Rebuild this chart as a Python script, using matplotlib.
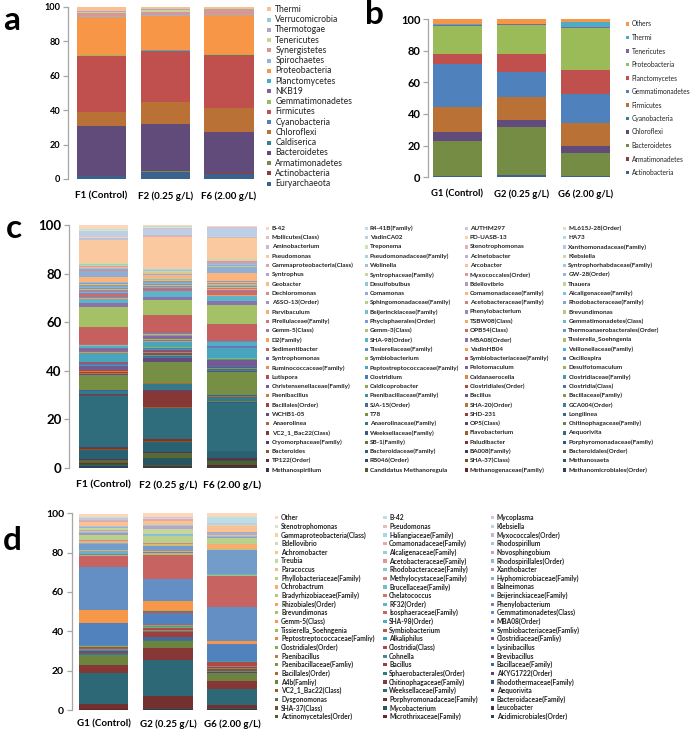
import math
import numpy as np
import matplotlib
matplotlib.use("Agg")
import matplotlib.pyplot as plt
from matplotlib.colors import to_rgb
from matplotlib.patches import Rectangle

plt.rcParams['font.family'] = ['Lato', 'DejaVu Sans']

W, H = 700, 731

# ---------------- panel a : phyla, digester samples (bottom -> top) ----------------
A_SAMPLES = ['F1 (Control)', 'F2 (0.25 g/L)', 'F6 (2.00 g/L)']
A_TAXA = ['Euryarchaeota', 'Actinobacteria', 'Armatimonadetes', 'Bacteroidetes', 'Caldiserica',
          'Chloroflexi', 'Cyanobacteria', 'Firmicutes', 'Gemmatimonadetes', 'NKB19',
          'Planctomycetes', 'Proteobacteria', 'Spirochaetes', 'Synergistetes', 'Tenericutes',
          'Thermotogae', 'Verrucomicrobia', 'Thermi']
A_F1 = [1.5, 0.2, 0.1, 28.7, 0.1, 8.4, 0.1, 32.4, 0.2, 0.1, 0.4, 22.0, 0.3, 2.0, 0.5, 0.3, 0.3, 2.4]
A_F2 = [4.0, 0.3, 0.2, 27.5, 0.1, 12.7, 0.1, 29.1, 0.3, 0.1, 0.4, 20.0, 0.3, 1.9, 0.8, 0.6, 0.3, 1.3]
A_F6 = [3.1, 0.2, 0.2, 23.5, 0.1, 14.0, 0.1, 30.9, 0.2, 0.1, 0.4, 22.6, 0.2, 3.0, 0.4, 0.3, 0.2, 0.5]

# ---------------- panel b : phyla, soil samples ----------------
B_SAMPLES = ['G1 (Control)', 'G2 (0.25 g/L)', 'G6 (2.00 g/L)']
B_TAXA = ['Actinobacteria', 'Armatimonadetes', 'Bacteroidetes', 'Chloroflexi', 'Cyanobacteria',
          'Firmicutes', 'Gemmatimonadetes', 'Planctomycetes', 'Proteobacteria', 'Tenericutes',
          'Thermi', 'Others']
B_G1 = [0.7, 0.1, 21.9, 5.7, 0.1, 15.7, 27.6, 5.9, 17.9, 0.3, 0.9, 3.2]
B_G2 = [1.3, 0.2, 30.3, 4.4, 0.1, 14.2, 15.8, 11.8, 18.3, 0.3, 0.4, 2.9]
B_G6 = [0.7, 0.1, 14.6, 4.4, 0.1, 14.2, 18.3, 15.6, 26.5, 0.5, 2.9, 2.1]

# ---------------- panel c : genera, digester samples (bottom -> top) ----------------
C_TAXA = [
    'Methanomicrobiales(Order)', 'Methanogenaceae(Family)', 'Candidatus Methanoregula', 'Methanospirillum',
    'Methanosaeta', 'SHA-37(Class)', 'RB046(Order)', 'TP122(Order)',
    'Bacteroidales(Order)', 'BA008(Family)', 'Bacteroidaceae(Family)', 'Bacteroides',
    'Porphyromonadaceae(Family)', 'Paludibacter', 'SB-1(Family)', 'Cryomorphaceae(Family)',
    'Aequorivita', 'Flavobacterium', 'Weeksellaceae(Family)', 'VC2_1_Bac22(Class)',
    'Chitinophagaceae(Family)', 'OP5(Class)', 'Anaerolinaceae(Family)', 'Anaerolinea',
    'Longilinea', 'SHD-231', 'T78', 'WCHB1-05',
    'GCA004(Order)', 'SHA-20(Order)', 'SJA-15(Order)', 'Bacillales(Order)',
    'Bacillaceae(Family)', 'Bacillus', 'Paenibacillaceae(Family)', 'Paenibacillus',
    'Clostridia(Class)', 'Clostridiales(Order)', 'Caldicoprobacter', 'Christensenellaceae(Family)',
    'Clostridiaceae(Family)', 'Caldanaerocella', 'Clostridium', 'Lutispora',
    'Desulfotomaculum', 'Pelotomaculum', 'Peptostreptococcaceae(Family)', 'Ruminococcaceae(Family)',
    'Oscillospira', 'Symbiobacteriaceae(Family)', 'Symbiobacterium', 'Syntrophomonas',
    'Veillonellaceae(Family)', 'VadinHB04', 'Tissierellaceae(Family)', 'Sedimentibacter',
    'Tissierella_Soehngenia', 'MBA08(Order)', 'SHA-98(Order)', 'D2(Family)',
    'Thermoanaerobacterales(Order)', 'OPB54(Class)', 'Gemm-3(Class)', 'Gemm-5(Class)',
    'Gemmatimonadetes(Class)', 'TSBW08(Class)', 'Phycisphaerales(Order)', 'Pirellulaceae(Family)',
    'Brevundimonas', 'Phenylobacterium', 'Beijerinckiaceae(Family)', 'Parvibaculum',
    'Rhodobacteraceae(Family)', 'Acetobacteraceae(Family)', 'Sphingomonadaceae(Family)', 'ASSO-13(Order)',
    'Alcaligenaceae(Family)', 'Comamonadaceae(Family)', 'Comamonas', 'Dechloromonas',
    'Thauera', 'Bdellovibrio', 'Desulfobulbus', 'Geobacter',
    'GW-28(Order)', 'Myxococcales(Order)', 'Syntrophaceae(Family)', 'Syntrophus',
    'Syntrophorhabdaceae(Family)', 'Arcobacter', 'Wolinella', 'Gammaproteobacteria(Class)',
    'Klebsiella', 'Acinetobacter', 'Pseudomonadaceae(Family)', 'Pseudomonas',
    'Xanthomonadaceae(Family)', 'Stenotrophomonas', 'Treponema', 'Aminobacterium',
    'HA73', 'PD-UASB-13', 'VadinCA02', 'Mollicutes(Class)',
    'ML615J-28(Order)', 'AUTHM297', 'R4-41B(Family)', 'B-42']
C_F1 = [0.5, 0.3, 0.2, 0.2, 0.3, 0.1, 0.1, 0.1,
        1.5, 0.1, 4.0, 0.2, 0.2, 0.4, 0.1, 0.1,
        21.0, 0.2, 0.2, 0.5, 0.2, 0.1, 1.0, 0.15,
        0.15, 0.15, 6.0, 0.5, 0.3, 0.2, 0.2, 0.1,
        0.1, 0.1, 0.1, 0.1, 0.2, 0.3, 0.2, 1.5,
        0.3, 0.3, 0.3, 0.3, 0.2, 0.2, 3.8, 0.3,
        0.4, 0.4, 0.3, 0.8, 0.8, 0.3, 0.4, 7.0,
        8.2, 1.6, 1.9, 0.3, 0.3, 1.3, 0.2, 0.3,
        0.2, 0.1, 0.3, 0.6, 0.3, 0.4, 0.3, 0.3,
        0.4, 0.5, 0.3, 0.4, 0.3, 2.0, 2.6, 0.3,
        0.3, 0.3, 0.3, 0.3, 0.3, 0.3, 0.2, 0.2,
        0.2, 0.1, 0.1, 0.1, 0.1, 0.1, 0.1, 9.6,
        0.1, 0.1, 0.2, 0.2, 0.3, 0.3, 2.2, 0.3,
        0.2, 0.2, 0.2, 1.65]
C_F2 = [0.4, 0.4, 0.2, 0.2, 2.6, 0.1, 0.1, 0.1,
        2.1, 0.1, 4.4, 0.2, 0.3, 0.5, 0.1, 0.1,
        12.9, 0.1, 0.1, 6.6, 0.2, 0.1, 2.8, 0.2,
        0.1, 0.1, 8.6, 1.6, 0.3, 0.2, 0.2, 0.1,
        0.2, 1.0, 0.2, 0.1, 0.2, 0.2, 0.2, 0.2,
        0.5, 0.2, 0.2, 0.2, 0.2, 0.2, 2.0, 0.3,
        0.3, 0.3, 0.2, 1.4, 0.4, 0.2, 0.6, 7.2,
        6.2, 1.4, 2.3, 0.2, 0.2, 0.6, 0.2, 0.3,
        0.2, 0.1, 0.2, 0.4, 0.3, 0.3, 0.3, 0.3,
        0.4, 0.3, 0.3, 0.3, 0.3, 1.5, 0.5, 0.2,
        0.2, 0.1, 0.1, 0.1, 0.1, 0.2, 0.1, 0.1,
        0.1, 0.1, 0.1, 0.1, 0.1, 0.1, 0.1, 13.3,
        0.1, 0.2, 0.2, 0.2, 0.2, 0.2, 2.4, 0.4,
        0.3, 0.2, 0.1, 0.4]
C_F6 = [0.3, 0.9, 1.5, 0.2, 0.3, 0.05, 0.05, 0.1,
        0.3, 0.1, 2.9, 0.05, 0.05, 0.1, 0.05, 0.05,
        19.7, 0.1, 0.1, 0.4, 0.1, 0.1, 1.8, 0.1,
        0.5, 0.1, 9.6, 0.4, 0.2, 0.2, 0.2, 0.2,
        0.2, 0.5, 0.1, 0.1, 0.1, 0.1, 0.1, 2.4,
        0.3, 0.1, 0.1, 0.1, 0.1, 0.1, 4.2, 0.1,
        0.1, 0.2, 0.1, 0.2, 1.7, 0.2, 0.3, 7.1,
        7.6, 1.7, 2.3, 0.2, 0.2, 1.4, 0.2, 0.3,
        0.2, 0.1, 0.2, 0.4, 0.4, 0.3, 0.4, 0.3,
        0.3, 0.4, 0.3, 0.3, 0.3, 3.2, 2.3, 0.3,
        0.3, 0.4, 0.2, 0.2, 0.2, 0.4, 0.2, 0.2,
        0.2, 0.2, 0.2, 0.1, 0.1, 0.2, 0.2, 8.5,
        0.1, 0.1, 0.1, 0.2, 0.2, 0.2, 3.0, 0.2,
        0.1, 0.1, 0.1, 0.6]

# ---------------- panel d : genera, soil samples (bottom -> top) ----------------
D_TAXA = [
    'Acidimicrobiales(Order)', 'Microthrixaceae(Family)', 'Actinomycetales(Order)', 'Leucobacter',
    'Mycobacterium', 'SHA-37(Class)', 'Bacteroidaceae(Family)', 'Porphyromonadaceae(Family)',
    'Dysgonomonas', 'Aequorivita', 'Weeksellaceae(Family)', 'VC2_1_Bac22(Class)',
    'Rhodothermaceae(Family)', 'Chitinophagaceae(Family)', 'A4b(Famliy)', 'AKYG1722(Order)',
    'Sphaerobacterales(Order)', 'Bacillales(Order)', 'Bacillaceae(Family)', 'Bacillus',
    'Paenibacillaceae(Famliy)', 'Brevibacillus', 'Cohnella', 'Paenibacillus',
    'Lysinibacillus', 'Clostridia(Class)', 'Clostridiales(Order)', 'Clostridiaceae(Famliy)',
    'Alkaliphilus', 'Peptostreptococcaceae(Famliy)', 'Symbiobacteriaceae(Famliy)', 'Symbiobacterium',
    'Tissierella_Soehngenia', 'MBA08(Order)', 'SHA-98(Order)', 'Gemm-5(Class)',
    'Gemmatimonadetes(Class)', 'Isosphaeraceae(Family)', 'Brevundimonas', 'Phenylobacterium',
    'RF32(Order)', 'Rhizobiales(Order)', 'Beijerinckiaceae(Family)', 'Chelatococcus',
    'Bradyrhizobiaceae(Family)', 'Balneimonas', 'Brucellaceae(Family)', 'Ochrobactrum',
    'Hyphomicrobiaceae(Family)', 'Methylocystaceae(Family)', 'Phyllobacteriaceae(Family)', 'Xanthobacter',
    'Rhodobacteraceae(Family)', 'Paracoccus', 'Rhodospirillales(Order)', 'Acetobacteraceae(Family)',
    'Treubia', 'Novosphingobium', 'Alcaligenaceae(Family)', 'Achromobacter',
    'Rhodospirillum', 'Comamonadaceae(Family)', 'Bdellovibrio', 'Myxococcales(Order)',
    'Haliangiaceae(Family)', 'Gammaproteobacteria(Class)', 'Klebsiella', 'Pseudomonas',
    'Stenotrophomonas', 'Mycoplasma', 'B-42', 'Other']
D_G1 = [0.2, 0.1, 0.1, 0.05, 0.05, 0.05, 0.05, 2.3,
        0.1, 0.1, 15.5, 0.1, 0.1, 4.0, 5.0, 0.3,
        0.3, 0.3, 0.4, 0.3, 0.3, 0.5, 0.3, 0.5,
        0.5, 0.6, 0.3, 0.2, 0.2, 0.3, 10.9, 0.1,
        0.1, 0.1, 0.1, 6.6, 21.5, 6.0, 0.5, 0.1,
        1.9, 0.2, 3.1, 0.1, 0.1, 0.1, 0.1, 1.1,
        0.2, 0.2, 2.8, 1.2, 0.3, 0.6, 0.3, 0.3,
        1.0, 0.3, 0.3, 2.2, 0.2, 0.3, 0.2, 0.2,
        0.5, 0.2, 0.2, 0.2, 0.2, 0.1, 0.3, 1.6]
D_G2 = [0.2, 0.2, 0.1, 0.1, 0.3, 0.1, 0.1, 6.0,
        0.1, 0.1, 18.1, 0.1, 0.1, 6.0, 3.4, 0.2,
        0.2, 0.2, 1.4, 2.5, 0.2, 0.2, 0.2, 0.4,
        0.3, 1.0, 0.3, 0.3, 0.3, 0.4, 6.0, 1.4,
        0.1, 0.1, 0.2, 4.4, 11.2, 12.3, 1.2, 0.2,
        0.2, 0.2, 2.8, 0.2, 0.2, 0.1, 0.1, 0.4,
        0.2, 0.2, 3.5, 0.2, 0.5, 0.2, 0.2, 0.2,
        2.4, 1.6, 0.3, 2.1, 0.2, 0.3, 0.2, 0.2,
        0.3, 0.2, 0.1, 0.1, 0.1, 0.2, 0.4, 1.7]
D_G6 = [0.2, 0.3, 0.1, 0.1, 0.1, 0.05, 0.05, 1.6,
        0.1, 0.1, 8.0, 0.1, 0.1, 4.0, 3.9, 0.3,
        0.3, 0.3, 0.5, 0.8, 0.2, 0.5, 0.2, 0.3,
        0.4, 1.6, 0.2, 0.2, 0.2, 0.1, 8.6, 0.1,
        0.1, 0.05, 0.05, 1.2, 17.3, 15.7, 0.7, 0.1,
        0.1, 0.1, 12.4, 0.1, 0.1, 0.1, 0.1, 2.5,
        0.1, 0.1, 3.1, 0.1, 0.9, 0.2, 1.0, 0.2,
        0.2, 0.3, 0.2, 2.8, 0.1, 0.1, 0.3, 0.1,
        0.1, 0.1, 0.1, 0.1, 0.1, 0.3, 3.0, 2.1]

# Office 2010 theme accents; extra series get darker / lighter variants
ACCENTS = ['#4F81BD', '#C0504D', '#9BBB59', '#8064A2', '#4BACC6', '#F79646']


def shade(col, t):
    r, g, b = to_rgb(col)
    if t < 0:
        return (r * (1 + t), g * (1 + t), b * (1 + t))
    return (r + (1 - r) * t, g + (1 - g) * t, b + (1 - b) * t)


def series_colors(n):
    groups = math.ceil(n / 6)
    if groups == 2:
        ts = [-0.25, 0.0]
    elif groups == 3:
        ts = [-0.25, 0.0, 0.4]
    else:
        ts = np.linspace(-0.5, 0.62, groups)
    return [shade(ACCENTS[i % 6], ts[i // 6]) for i in range(n)]


def px_rect(x0, y0, x1, y1):
    return [x0 / W, 1 - y1 / H, (x1 - x0) / W, (y1 - y0) / H]


def stacked(ax, samples, table, colors, width, xl, ytick_fs, xtick_fs, xpad):
    table = np.array(table)
    x = np.arange(len(samples))
    bottom = np.zeros(len(samples))
    for i in range(table.shape[1]):
        ax.bar(x, table[:, i], width, bottom=bottom, color=colors[i], linewidth=0)
        bottom += table[:, i]
    ax.set_ylim(0, 100)
    ax.set_xlim(xl, len(samples) - 1 - xl)
    ax.set_yticks(range(0, 101, 20))
    ax.set_xticks(x)
    ax.set_xticklabels(samples, fontweight='bold', fontsize=xtick_fs)
    for lab in ax.get_yticklabels():
        lab.set_fontweight('bold')
    for s in ['top', 'right', 'bottom']:
        ax.spines[s].set_visible(False)
    ax.spines['left'].set_color('#A6A6A6')
    ax.spines['left'].set_linewidth(0.9)
    ax.tick_params(axis='y', length=3.5, width=0.9, color='#A6A6A6', labelsize=ytick_fs, pad=2)
    ax.tick_params(axis='x', length=0, pad=xpad)


def legend(fig, names, colors, ncol, mx, tx, y0, step, msize, fs, weight):
    n = len(names)
    for k in range(n):
        idx = n - 1 - k           # top-left entry is the top of the stack
        r, c = divmod(k, ncol)
        yc = y0 + r * step
        fig.add_artist(Rectangle((mx[c] / W, 1 - (yc + msize / 2) / H), msize / W, msize / H,
                                 transform=fig.transFigure, color=colors[idx], linewidth=0))
        fig.text(tx[c] / W, 1 - yc / H, names[idx], fontsize=fs, fontweight=weight,
                 va='center', ha='left', color='#222222')


fig = plt.figure(figsize=(W / 100, H / 100), dpi=100)

# panel a
ca = series_colors(len(A_TAXA))
ax_a = fig.add_axes(px_rect(68, 6.7, 262.5, 179))
stacked(ax_a, A_SAMPLES, [A_F1, A_F2, A_F6], ca, 0.776, -0.525, 6.6, 7.0, 9)
legend(fig, A_TAXA, ca, 1, [266.7], [275.3], 9.3, 10.26, 4.0, 6.2, 'normal')

# panel b
cb = series_colors(len(B_TAXA))
ax_b = fig.add_axes(px_rect(428.3, 19, 614.7, 177.3))
stacked(ax_b, B_SAMPLES, [B_G1, B_G2, B_G6], cb, 0.773, -0.456, 8.0, 6.8, 9)
legend(fig, B_TAXA, cb, 1, [625.7], [631.7], 24, 13.5, 3.7, 4.8, 'normal')

# panel c
cc = series_colors(len(C_TAXA))
ax_c = fig.add_axes(px_rect(69.3, 225.3, 266.2, 467.7))
stacked(ax_c, A_SAMPLES, [C_F1, C_F2, C_F6], cc, 0.767, -0.532, 9.5, 7.4, 9)
legend(fig, C_TAXA, cc, 4, [265.7, 364.5, 464.5, 562.8], [271.7, 370, 470, 568.3],
       228.3, 9.3, 3.3, 4.6, 'bold')

# panel d
cd = series_colors(len(D_TAXA))
ax_d = fig.add_axes(px_rect(71.7, 513.3, 264.2, 710))
stacked(ax_d, B_SAMPLES, [D_G1, D_G2, D_G6], cd, 0.77, -0.5, 7.5, 7.0, 7)
legend(fig, D_TAXA, cd, 3, [275, 383.3, 491], [281, 389, 496.7], 517.7, 8.65, 3.2, 4.8, 'bold')

# panel letters
for lab, (x, y) in zip('abcd', [(12, 20), (374, 14), (14, 229), (12, 540)]):
    fig.text(x / W, 1 - y / H, lab, fontsize=24, fontweight='bold', ha='center', va='center')

fig.savefig('out.png', dpi=100)
